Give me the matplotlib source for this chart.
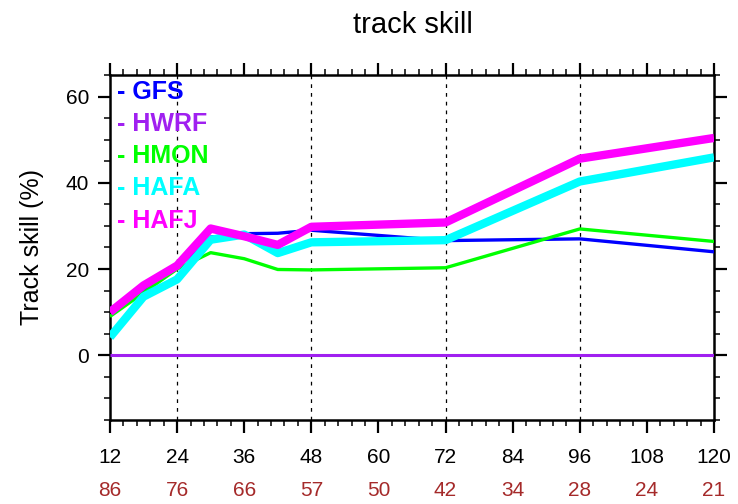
import numpy as np
import matplotlib
matplotlib.use("Agg")
import matplotlib.pyplot as plt
from matplotlib.ticker import MultipleLocator

plt.rcParams['font.family'] = ['Liberation Sans', 'DejaVu Sans']

hours = [12, 18, 24, 30, 36, 42, 48, 72, 96, 120]
gfs = [10.8, 15.2, 20.3, 27.4, 28.2, 28.3, 29.0, 26.6, 27.0, 24.0]
hwrf = [0, 0, 0, 0, 0, 0, 0, 0, 0, 0]
hmon = [9.0, 14.5, 20.0, 23.8, 22.4, 19.9, 19.8, 20.3, 29.3, 26.4]
hafa = [4.2, 13.6, 17.6, 26.8, 28.0, 23.7, 26.2, 26.7, 40.3, 45.9]
hafj = [10.0, 16.2, 20.8, 29.4, 27.6, 25.6, 29.8, 30.8, 45.6, 50.4]

names = ["GFS", "HWRF", "HMON", "HAFA", "HAFJ"]
colors = ["#0000FF", "#A020F0", "#00FF00", "#00FFFF", "#FF00FF"]
widths = [2.4, 2.2, 2.4, 6.0, 6.0]

tick_hours = [12, 24, 36, 48, 60, 72, 84, 96, 108, 120]
counts = [86, 76, 66, 57, 50, 42, 34, 28, 24, 21]
grid_hours = [24, 48, 72, 96]

fig = plt.figure(figsize=(7.38, 5.04), dpi=100)
ax = fig.add_axes([0.149, 0.1667, 0.8185, 0.6845])

for gh in grid_hours:
    ax.axvline(gh, color="black", linestyle=(0, (3, 4)), linewidth=0.9, zorder=1)

for name, vals, c, w in zip(names, [gfs, hwrf, hmon, hafa, hafj], colors, widths):
    ax.plot(hours, vals, color=c, linewidth=w, solid_capstyle="butt", zorder=3)

# labels in place of a legend
for i, (name, c) in enumerate(zip(names, colors)):
    ax.text(0.012, 0.95 - i * 0.093, "- " + name, color=c, fontsize=18,
            fontweight="bold", transform=ax.transAxes, va="center", ha="left")

ax.set_xlim(12, 120)
ax.set_ylim(-15, 65)
ax.set_xticks(tick_hours)
ax.set_xticklabels([str(h) for h in tick_hours], fontsize=15)
ax.xaxis.set_minor_locator(MultipleLocator(2.4))
ax.set_yticks([0, 20, 40, 60])
ax.yaxis.set_minor_locator(MultipleLocator(5))
ax.tick_params(axis="y", labelsize=15)

ax.tick_params(which="both", direction="out", top=True, right=True,
               labeltop=False, labelright=False)
ax.tick_params(which="major", length=9, width=1.6)
ax.tick_params(which="minor", length=4.5, width=1.1)
ax.tick_params(axis="x", which="major", pad=11)
ax.tick_params(axis="y", which="major", pad=6)
for sp in ax.spines.values():
    sp.set_linewidth(1.8)

for h, n in zip(tick_hours, counts):
    ax.text(h, -0.205, str(n), color="#A52A2A", fontsize=15, ha="center", va="center",
            transform=ax.get_xaxis_transform())

ax.set_ylabel("Track skill (%)", fontsize=18, labelpad=16)
fig.text(0.56, 0.95, "track skill", fontsize=21, ha="center", va="center")

fig.savefig("out.png", dpi=100)
